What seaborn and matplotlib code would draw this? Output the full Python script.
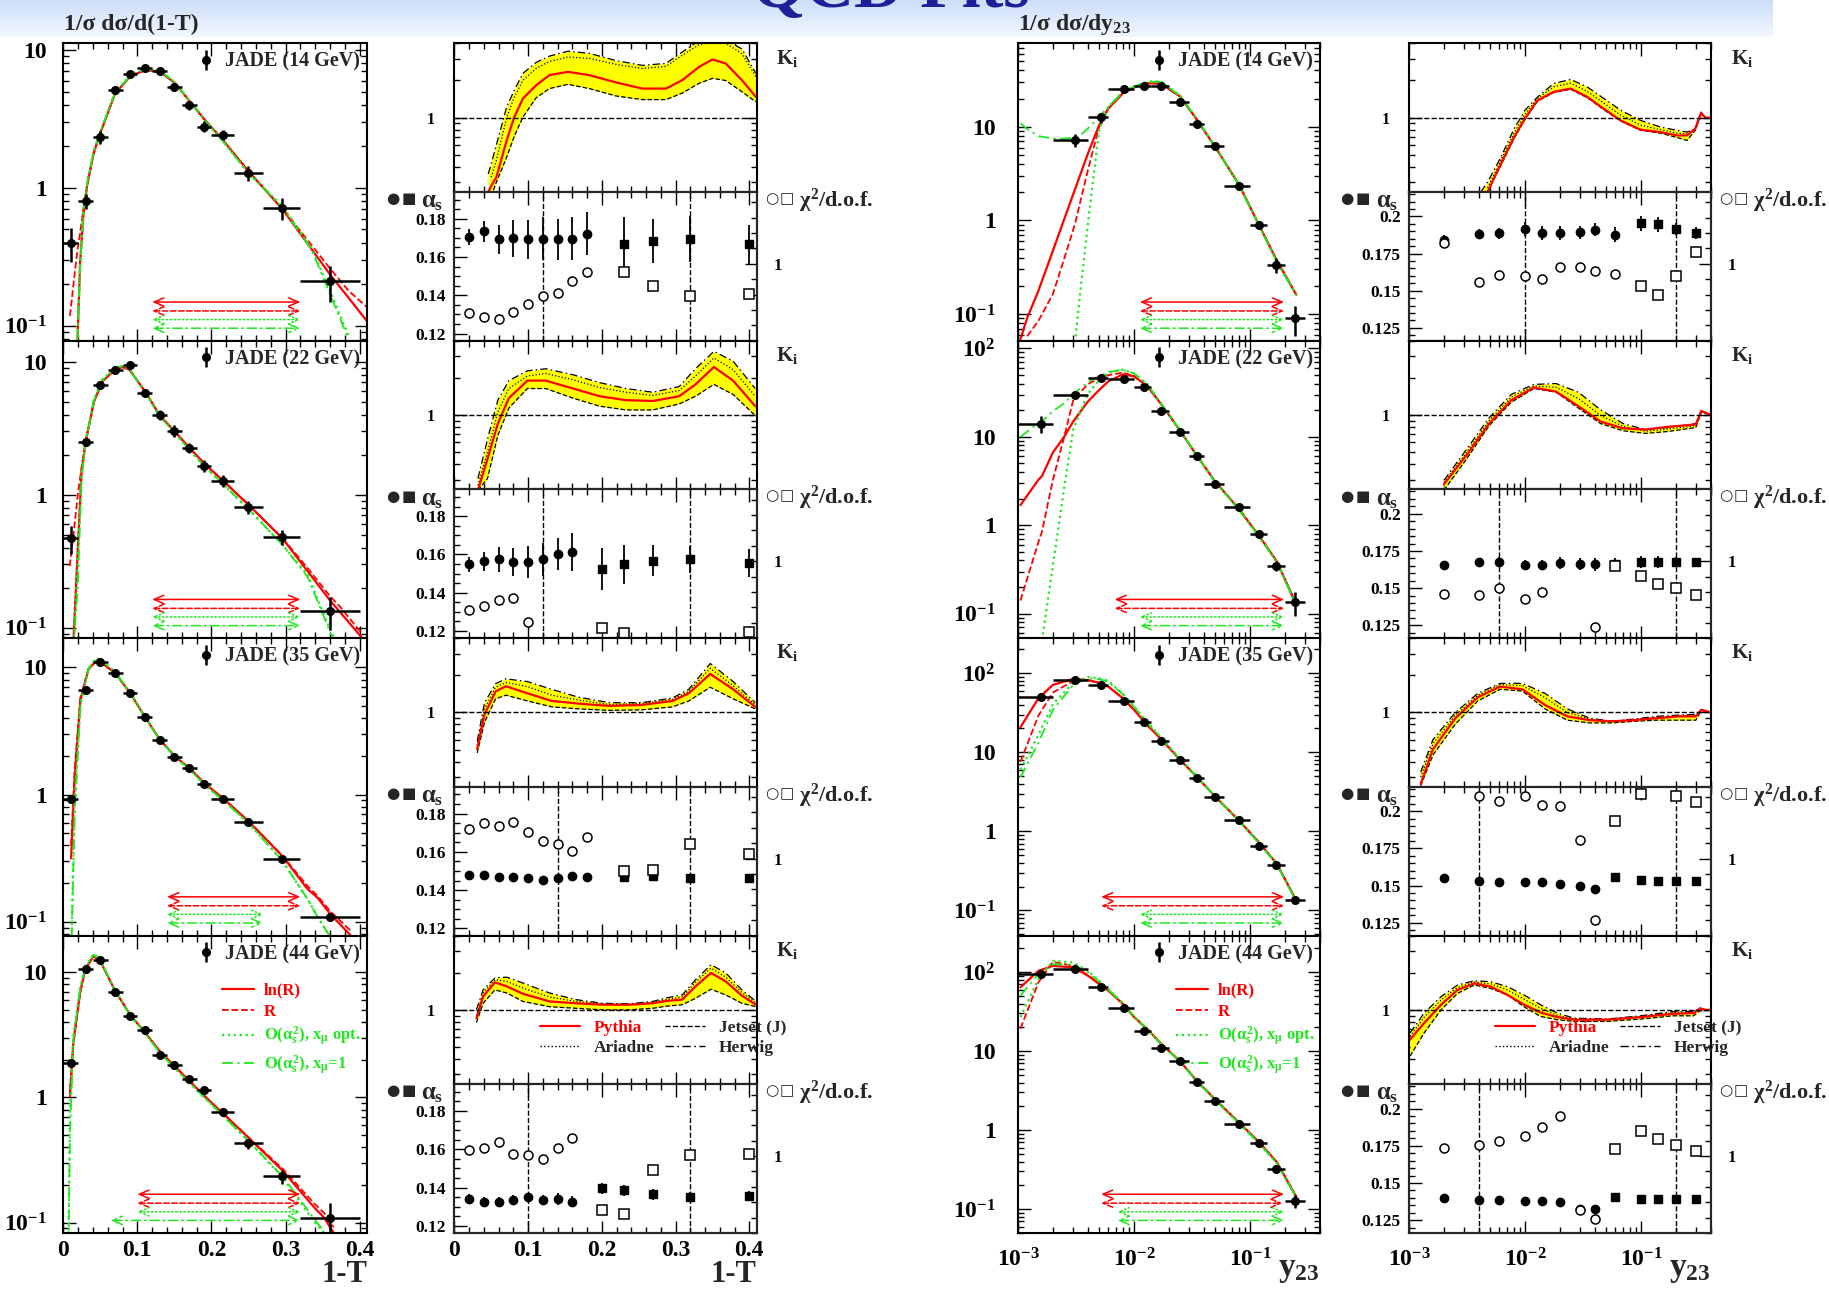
import numpy as np
import pandas as pd
import matplotlib
matplotlib.use("Agg")
import matplotlib.pyplot as plt
import seaborn as sns
from matplotlib.lines import Line2D
from matplotlib.ticker import (FixedLocator, FuncFormatter, NullFormatter,
                               MultipleLocator, LogLocator)

nan = np.nan

# ======================= DATA =======================
ENERGIES = ["14", "22", "35", "44"]

# ---- 1-T spectra (JADE data) ----
T_X = [0.01, 0.03, 0.05, 0.07, 0.09, 0.11, 0.13, 0.15, 0.17, 0.19, 0.215, 0.25, 0.295, 0.36]
T_EDGES = [0, 0.02, 0.04, 0.06, 0.08, 0.10, 0.12, 0.14, 0.16, 0.18, 0.20, 0.23, 0.27, 0.32, 0.40]
T_Y_14 = [0.40, 0.80, 2.34, 5.14, 6.7, 7.45, 7.0, 5.37, 4.0, 2.79, 2.43, 1.28, 0.72, 0.21]
T_E_14 = [0.11, 0.10, 0.25, 0.35, 0.40, 0.40, 0.40, 0.35, 0.30, 0.25, 0.20, 0.16, 0.13, 0.06]
T_Y_22 = [0.47, 2.5, 6.7, 8.65, 9.4, 5.83, 3.99, 3.02, 2.25, 1.64, 1.27, 0.81, 0.48, 0.133]
T_E_22 = [0.11, 0.15, 0.35, 0.5, 0.5, 0.4, 0.35, 0.3, 0.2, 0.17, 0.13, 0.09, 0.06, 0.037]
T_Y_35 = [0.93, 6.6, 11.1, 9.1, 6.26, 4.11, 2.69, 1.99, 1.61, 1.22, 0.925, 0.61, 0.31, 0.110]
T_E_35 = [0.04, 0.2, 0.35, 0.25, 0.18, 0.12, 0.08, 0.06, 0.05, 0.04, 0.03, 0.025, 0.015, 0.008]
T_Y_44 = [1.9, 10.6, 12.4, 7.0, 4.44, 3.48, 2.2, 1.81, 1.40, 1.14, 0.76, 0.43, 0.235, 0.110]
T_E_44 = [0.1, 0.5, 0.6, 0.35, 0.22, 0.17, 0.1, 0.08, 0.07, 0.07, 0.05, 0.04, 0.03, 0.035]

# ---- 1-T fit curves: ln(R), R, O(as2) x_mu opt, O(as2) x_mu=1 ----
TC_X_14 = [0.009, 0.016, 0.019, 0.0227, 0.027, 0.032, 0.041, 0.05, 0.07, 0.091, 0.111, 0.131, 0.151, 0.171, 0.191, 0.215, 0.25, 0.296, 0.336, 0.361, 0.385, 0.413]
TC_LNR_14 = [nan, nan, 0.075, 0.287, 0.624, 1.03, 1.79, 2.5, 4.86, 6.49, 7.17, 6.97, 5.74, 4.23, 3.12, 2.24, 1.32, 0.70, 0.355, 0.232, 0.16, 0.103]
TC_R_14 = [0.118, 0.257, 0.35, 0.47, 0.7, 1.03, 1.79, 2.5, 4.86, 6.49, 7.17, 6.97, 5.74, 4.23, 3.12, 2.24, 1.32, 0.71, 0.38, 0.257, 0.18, 0.132]
TC_OPT_14 = [nan, nan, 0.075, 0.26, 0.68, 1.09, 1.85, 2.57, 4.95, 6.6, 7.3, 7.1, 5.8, 4.25, 3.1, 2.2, 1.28, 0.737, 0.358, 0.174, 0.085, nan]
TC_X1_14 = [nan, nan, 0.078, 0.27, 0.66, 1.07, 1.82, 2.55, 4.9, 6.55, 7.25, 7.05, 5.78, 4.24, 3.1, 2.2, 1.28, 0.72, 0.35, 0.165, 0.08, nan]

TC_X_22 = [0.0086, 0.0137, 0.0195, 0.0246, 0.0305, 0.0414, 0.0523, 0.0698, 0.08, 0.0894, 0.1106, 0.13, 0.151, 0.171, 0.191, 0.216, 0.251, 0.296, 0.33, 0.361, 0.373, 0.402]
TC_LNR_22 = [nan, 0.08, 0.381, 1.48, 2.55, 5.0, 7.05, 8.77, 9.13, 8.7, 5.96, 3.96, 2.96, 2.23, 1.70, 1.27, 0.83, 0.468, 0.265, 0.158, 0.132, 0.0857]
TC_R_22 = [0.29, 0.5, 0.99, 1.6, 2.6, 5.0, 7.05, 8.77, 9.13, 8.7, 5.96, 3.96, 2.96, 2.23, 1.70, 1.27, 0.83, 0.47, 0.28, 0.17, 0.145, 0.092]
TC_OPT_22 = [nan, 0.07, 0.3, 1.4, 2.6, 5.2, 7.3, 9.0, 9.3, 8.8, 5.9, 3.9, 2.9, 2.15, 1.62, 1.2, 0.77, 0.42, 0.25, 0.094, 0.07, nan]
TC_X1_22 = [nan, 0.07, 0.2, 1.3, 2.55, 5.1, 7.2, 9.0, 9.3, 8.8, 5.9, 3.9, 2.9, 2.15, 1.62, 1.2, 0.77, 0.42, 0.24, 0.09, 0.07, nan]

TC_X_35 = [0.0105, 0.0154, 0.0231, 0.0341, 0.045, 0.0559, 0.0699, 0.0894, 0.11, 0.13, 0.151, 0.171, 0.191, 0.216, 0.251, 0.296, 0.33, 0.343, 0.361, 0.388]
TC_LNR_35 = [0.315, 1.37, 5.56, 9.73, 11.3, 10.4, 9.08, 6.39, 4.11, 2.72, 1.99, 1.6, 1.22, 0.93, 0.61, 0.327, 0.18, 0.155, 0.114, 0.078]
TC_R_35 = [0.4, 1.6, 5.8, 9.8, 11.3, 10.4, 9.08, 6.39, 4.11, 2.72, 1.99, 1.6, 1.22, 0.93, 0.61, 0.33, 0.19, 0.16, 0.12, 0.085]
TC_OPT_35 = [0.05, 0.9, 5.2, 9.9, 11.8, 10.8, 9.2, 6.4, 4.1, 2.7, 1.97, 1.57, 1.19, 0.9, 0.59, 0.3, 0.15, 0.11, 0.075, nan]
TC_X1_35 = [0.05, 0.7, 5.0, 9.8, 11.8, 10.8, 9.2, 6.4, 4.1, 2.7, 1.97, 1.57, 1.19, 0.9, 0.59, 0.3, 0.15, 0.11, 0.075, nan]

TC_X_44 = [0.007, 0.009, 0.0136, 0.0227, 0.0295, 0.041, 0.05, 0.07, 0.091, 0.11, 0.131, 0.151, 0.171, 0.191, 0.215, 0.25, 0.296, 0.34, 0.352, 0.365]
TC_LNR_44 = [nan, 1.08, 2.77, 6.87, 10.5, 13.5, 12.2, 7.08, 4.5, 3.32, 2.31, 1.76, 1.34, 1.02, 0.752, 0.477, 0.261, 0.13, 0.11, 0.083]
TC_R_44 = [nan, 1.0, 2.7, 6.8, 10.5, 13.5, 12.2, 7.08, 4.5, 3.32, 2.31, 1.76, 1.34, 1.02, 0.752, 0.48, 0.27, 0.14, 0.12, 0.092]
TC_OPT_44 = [0.07, 0.8, 3.1, 7.5, 11.0, 14.0, 12.5, 7.1, 4.45, 3.28, 2.25, 1.7, 1.3, 0.99, 0.72, 0.45, 0.23, 0.1, 0.083, nan]
TC_X1_44 = [0.07, 0.5, 2.9, 7.3, 10.8, 13.8, 12.4, 7.1, 4.45, 3.28, 2.25, 1.7, 1.3, 0.99, 0.72, 0.45, 0.235, 0.105, 0.085, nan]

# ---- y23 spectra ----
Y_EDGES = [0.001, 0.002, 0.004, 0.006, 0.01, 0.014, 0.02, 0.03, 0.04, 0.06, 0.1, 0.14, 0.2, 0.3]
Y_X_14 = [0.00312, 0.00516, 0.0082, 0.01217, 0.0172, 0.0249, 0.0351, 0.0496, 0.0795, 0.1186, 0.1667, 0.243]
Y_X = [0.00157, 0.00312, 0.00516, 0.0082, 0.0122, 0.0172, 0.0249, 0.0351, 0.0496, 0.0795, 0.1186, 0.1667, 0.243]
Y_Y_14 = [7.2, 12.6, 25.1, 27.3, 27.5, 18.4, 10.6, 6.3, 2.33, 0.905, 0.337, 0.0906]
Y_E_14 = [1.1, 1.5, 1.5, 1.5, 1.5, 1.2, 0.7, 0.4, 0.15, 0.08, 0.06, 0.032]
Y_Y_22 = [14.0, 30.0, 46.8, 44.9, 37.0, 19.5, 11.4, 6.03, 2.96, 1.6, 0.80, 0.345, 0.134]
Y_E_22 = [3.0, 2.0, 2.0, 2.0, 1.5, 0.8, 0.5, 0.3, 0.15, 0.08, 0.06, 0.04, 0.04]
Y_Y_35 = [49.3, 81.7, 71.3, 44.1, 24.3, 14.0, 7.9, 4.72, 2.75, 1.37, 0.66, 0.373, 0.136]
Y_E_35 = [1.5, 2.0, 2.0, 1.2, 0.6, 0.4, 0.2, 0.12, 0.07, 0.04, 0.02, 0.012, 0.008]
Y_Y_44 = [94.4, 109.0, 65.6, 35.4, 17.9, 11.07, 7.54, 4.06, 2.33, 1.19, 0.687, 0.324, 0.127]
Y_E_44 = [3.0, 3.0, 2.0, 1.0, 0.6, 0.4, 0.25, 0.15, 0.08, 0.05, 0.03, 0.015, 0.025]

# ---- y23 fit curves ----
YC_X_14 = [0.00105, 0.0012, 0.0015, 0.002, 0.0025, 0.0031, 0.0035, 0.004, 0.005, 0.006, 0.008, 0.01, 0.013, 0.017, 0.025, 0.035, 0.05, 0.08, 0.12, 0.17, 0.25]
YC_LNR_14 = [0.054, 0.091, 0.178, 0.477, 1.03, 2.16, 3.27, 5.18, 10.4, 15.7, 22.8, 26.4, 29.2, 29.0, 21.0, 11.8, 6.1, 2.43, 0.88, 0.373, 0.161]
YC_R_14 = [nan, 0.058, 0.0848, 0.164, 0.39, 0.92, 1.73, 3.44, 10.0, 15.7, 22.8, 26.4, 29.2, 29.0, 21.0, 11.8, 6.1, 2.43, 0.88, 0.373, 0.161]
YC_OPT_14 = [nan, nan, nan, nan, nan, 0.05, 0.21, 0.92, 9.2, 16.4, 23.7, 27.0, 30.4, 30.7, 21.5, 12.0, 6.1, 2.4, 0.87, 0.36, 0.16]
YC_X1_14 = [10.9, 9.5, 7.95, 7.5, 7.5, 7.7, 8.3, 9.6, 12.8, 16.4, 23.5, 27.0, 30.0, 30.3, 21.3, 12.0, 6.1, 2.4, 0.87, 0.36, 0.16]

YC_X_22 = [0.00105, 0.0015, 0.00161, 0.002, 0.0025, 0.003, 0.004, 0.005, 0.006, 0.008, 0.01, 0.013, 0.017, 0.025, 0.035, 0.05, 0.08, 0.12, 0.17, 0.25]
YC_LNR_22 = [1.69, 3.27, 3.6, 6.67, 10.0, 15.0, 25.0, 33.8, 42.3, 50.8, 48.3, 37.4, 23.7, 11.7, 6.03, 3.12, 1.53, 0.753, 0.389, 0.127]
YC_R_22 = [0.141, 0.647, 0.85, 3.27, 10.0, 26.4, 39.4, 45.8, 49.7, 53.3, 48.3, 37.4, 23.7, 11.7, 6.03, 3.12, 1.53, 0.753, 0.389, 0.127]
YC_OPT_22 = [nan, nan, 0.05, 0.351, 2.68, 12.3, 30.5, 43.6, 53.3, 57.4, 51.9, 39.4, 24.0, 11.8, 6.0, 3.1, 1.5, 0.74, 0.38, 0.125]
YC_X1_22 = [10.0, 14.3, 15.0, 19.4, 24.0, 30.5, 41.4, 48.3, 53.8, 57.4, 51.9, 39.4, 24.0, 11.8, 6.0, 3.1, 1.5, 0.74, 0.38, 0.125]

YC_X_35 = [0.00105, 0.0015, 0.002, 0.003, 0.004, 0.005, 0.006, 0.008, 0.01, 0.013, 0.017, 0.025, 0.035, 0.05, 0.08, 0.12, 0.17, 0.25]
YC_LNR_35 = [20.7, 48.2, 71.3, 84.6, 81.7, 75.5, 67.6, 48.2, 34.4, 22.0, 14.8, 7.98, 4.82, 2.75, 1.37, 0.716, 0.386, 0.133]
YC_R_35 = [7.56, 29.1, 57.0, 79.8, 81.7, 75.5, 67.6, 48.2, 34.4, 22.0, 14.8, 7.98, 4.82, 2.75, 1.37, 0.716, 0.386, 0.133]
YC_OPT_35 = [6.04, 16.6, 40.7, 75.5, 89.4, 86.3, 79.8, 55.0, 38.0, 24.0, 15.5, 8.2, 4.9, 2.75, 1.36, 0.7, 0.38, 0.13]
YC_X1_35 = [4.82, 13.2, 34.4, 71.3, 86.3, 84.0, 78.0, 54.0, 37.5, 23.5, 15.3, 8.1, 4.85, 2.75, 1.36, 0.7, 0.38, 0.13]

YC_X_44 = [0.00105, 0.0015, 0.002, 0.003, 0.004, 0.005, 0.006, 0.008, 0.01, 0.013, 0.017, 0.025, 0.035, 0.05, 0.08, 0.12, 0.17, 0.25]
YC_LNR_44 = [64.3, 104.0, 120.0, 115.0, 90.2, 70.8, 58.4, 39.7, 27.0, 19.0, 12.5, 7.38, 4.15, 2.44, 1.25, 0.7, 0.393, 0.143]
YC_R_44 = [19.3, 74.3, 135.0, 120.0, 92.0, 71.0, 58.4, 39.7, 27.0, 19.0, 12.5, 7.38, 4.15, 2.44, 1.25, 0.7, 0.393, 0.143]
YC_OPT_44 = [27.0, 81.7, 139.0, 132.0, 104.0, 78.0, 60.8, 40.5, 27.5, 19.0, 12.4, 7.3, 4.1, 2.4, 1.22, 0.68, 0.38, 0.14]
YC_X1_44 = [50.6, 94.4, 126.0, 123.0, 100.0, 76.0, 60.0, 40.0, 27.3, 19.0, 12.4, 7.3, 4.1, 2.4, 1.22, 0.68, 0.38, 0.14]

# ---- fit ranges (ln R, R, opt, x_mu=1) ----
T_FIT_14 = [(0.12, 0.32), (0.12, 0.32), (0.12, 0.32), (0.12, 0.32)]
T_FIT_22 = [(0.12, 0.32), (0.12, 0.32), (0.12, 0.32), (0.12, 0.32)]
T_FIT_35 = [(0.14, 0.32), (0.14, 0.32), (0.14, 0.27), (0.14, 0.27)]
T_FIT_44 = [(0.10, 0.32), (0.10, 0.32), (0.10, 0.32), (0.064, 0.32)]
Y_FIT_14 = [(0.0112, 0.196), (0.0112, 0.196), (0.0112, 0.196), (0.0112, 0.196)]
Y_FIT_22 = [(0.0068, 0.196), (0.0068, 0.196), (0.0112, 0.196), (0.0112, 0.196)]
Y_FIT_35 = [(0.0052, 0.196), (0.0052, 0.196), (0.0112, 0.196), (0.0112, 0.196)]
Y_FIT_44 = [(0.0052, 0.196), (0.0052, 0.19), (0.0072, 0.196), (0.0072, 0.196)]
T_VLINES = [(0.12, 0.32), (0.12, 0.32), (0.14, 0.32), (0.10, 0.32)]
Y_VLINES = [(0.01, 0.2), (0.006, 0.2), (0.004, 0.2), (0.004, 0.2)]

# ---- hadronisation corrections K_i (1-T) : Pythia, Jetset, Ariadne, Herwig ----
KT_X_14 = [0.046, 0.05, 0.057, 0.071, 0.081, 0.093, 0.111, 0.129, 0.154, 0.183, 0.219, 0.255, 0.287, 0.309, 0.332, 0.35, 0.368, 0.39, 0.409]
KT_PY_14 = [0.249, 0.28, 0.329, 0.654, 1.0, 1.428, 1.83, 2.21, 2.35, 2.21, 1.93, 1.72, 1.72, 2.01, 2.58, 2.96, 2.75, 2.01, 1.47]
KT_JE_14 = [nan, 0.23, 0.3, 0.478, 0.7, 1.01, 1.45, 1.72, 1.86, 1.72, 1.5, 1.4, 1.4, 1.58, 1.9, 2.08, 2.0, 1.62, 1.34]
KT_AR_14 = [nan, 0.33, 0.45, 1.0, 1.45, 2.01, 2.5, 2.85, 3.1, 3.02, 2.7, 2.5, 2.6, 3.2, 3.9, 4.1, 4.0, 3.3, 2.14]
KT_HE_14 = [0.35, 0.42, 0.6, 1.22, 1.65, 2.28, 2.8, 3.15, 3.45, 3.32, 2.9, 2.65, 2.75, 3.4, 4.2, 4.4, 4.25, 3.6, 2.28]

KT_X_22 = [0.032, 0.045, 0.059, 0.074, 0.099, 0.124, 0.161, 0.197, 0.233, 0.269, 0.305, 0.327, 0.352, 0.378, 0.408]
KT_PY_22 = [0.246, 0.442, 0.852, 1.37, 1.9, 1.9, 1.64, 1.42, 1.32, 1.3, 1.42, 1.77, 2.45, 1.9, 1.18]
KT_JE_22 = [0.246, 0.306, 0.684, 1.14, 1.64, 1.64, 1.37, 1.18, 1.1, 1.1, 1.23, 1.42, 1.77, 1.47, 0.99]
KT_AR_22 = [0.27, 0.5, 1.06, 1.64, 2.07, 2.17, 1.93, 1.67, 1.53, 1.44, 1.58, 2.07, 2.9, 2.33, 1.42]
KT_HE_22 = [0.306, 0.636, 1.32, 1.9, 2.28, 2.37, 2.12, 1.83, 1.64, 1.53, 1.7, 2.37, 3.28, 2.73, 1.64]

KT_X_35 = [0.031, 0.041, 0.056, 0.07, 0.099, 0.132, 0.168, 0.21, 0.254, 0.296, 0.318, 0.347, 0.378, 0.408]
KT_PY_35 = [0.505, 0.965, 1.48, 1.63, 1.43, 1.24, 1.18, 1.13, 1.15, 1.24, 1.43, 2.05, 1.54, 1.11]
KT_JE_35 = [0.47, 0.835, 1.29, 1.38, 1.24, 1.11, 1.07, 1.04, 1.05, 1.11, 1.24, 1.6, 1.29, 1.07]
KT_AR_35 = [0.54, 1.07, 1.6, 1.75, 1.62, 1.38, 1.26, 1.16, 1.18, 1.28, 1.48, 2.28, 1.65, 1.15]
KT_HE_35 = [0.583, 1.2, 1.71, 1.87, 1.78, 1.54, 1.33, 1.2, 1.2, 1.31, 1.54, 2.49, 1.78, 1.2]

KT_X_44 = [0.03, 0.039, 0.055, 0.071, 0.093, 0.129, 0.165, 0.201, 0.237, 0.269, 0.287, 0.309, 0.327, 0.348, 0.368, 0.39, 0.409]
KT_PY_44 = [0.855, 1.28, 1.67, 1.55, 1.35, 1.17, 1.13, 1.1, 1.1, 1.13, 1.18, 1.21, 1.55, 1.99, 1.7, 1.3, 1.1]
KT_JE_44 = [0.789, 1.13, 1.45, 1.37, 1.17, 1.06, 1.03, 1.0, 1.0, 1.03, 1.07, 1.1, 1.24, 1.47, 1.32, 1.13, 1.06]
KT_AR_44 = [0.9, 1.37, 1.75, 1.7, 1.5, 1.27, 1.17, 1.12, 1.11, 1.15, 1.21, 1.27, 1.67, 2.18, 1.84, 1.38, 1.13]
KT_HE_44 = [1.0, 1.45, 1.81, 1.84, 1.65, 1.37, 1.21, 1.13, 1.12, 1.17, 1.25, 1.32, 1.75, 2.32, 1.99, 1.45, 1.17]

# ---- K_i (y23) ----
KY_X_14 = [0.00416, 0.00475, 0.00618, 0.00805, 0.01, 0.0128, 0.0177, 0.0247, 0.0344, 0.0477, 0.0664, 0.0986, 0.1465, 0.204, 0.248, 0.293, 0.328, 0.357, 0.399]
KY_PY_14 = [nan, 0.25, 0.422, 0.696, 0.99, 1.38, 1.62, 1.72, 1.47, 1.18, 0.951, 0.799, 0.764, 0.718, 0.718, 0.814, 1.09, 1.0, 1.0]
KY_JE_14 = [nan, 0.25, 0.41, 0.68, 0.97, 1.36, 1.6, 1.7, 1.45, 1.16, 0.94, 0.79, 0.75, 0.69, 0.654, 0.79, 1.08, 1.0, 1.0]
KY_AR_14 = [nan, 0.27, 0.45, 0.75, 1.07, 1.43, 1.78, 1.9, 1.63, 1.31, 1.05, 0.87, 0.8, 0.75, 0.74, 0.81, 1.1, 1.0, 1.0]
KY_HE_14 = [0.25, 0.3, 0.478, 0.814, 1.15, 1.47, 1.89, 2.04, 1.77, 1.43, 1.15, 0.951, 0.84, 0.789, 0.764, 0.814, 1.11, 1.0, 1.0]

KY_X_22 = [0.002, 0.00314, 0.0049, 0.0076, 0.0119, 0.0185, 0.0288, 0.0449, 0.07, 0.109, 0.17, 0.296, 0.33, 0.4]
KY_PY_22 = [0.275, 0.475, 0.852, 1.32, 1.67, 1.55, 1.18, 0.884, 0.78, 0.763, 0.803, 0.84, 1.08, 1.0]
KY_JE_22 = [0.246, 0.442, 0.821, 1.27, 1.64, 1.53, 1.14, 0.852, 0.746, 0.71, 0.736, 0.792, 1.06, 1.0]
KY_AR_22 = [0.285, 0.5, 0.9, 1.4, 1.72, 1.68, 1.36, 0.99, 0.81, 0.74, 0.77, 0.82, 1.07, 1.0]
KY_HE_22 = [0.296, 0.53, 0.95, 1.47, 1.77, 1.8, 1.53, 1.1, 0.852, 0.763, 0.792, 0.852, 1.08, 1.0]

KY_X_35 = [0.00126, 0.00161, 0.00251, 0.00392, 0.0061, 0.0095, 0.0148, 0.0231, 0.036, 0.056, 0.0874, 0.136, 0.212, 0.296, 0.33, 0.4]
KY_PY_35 = [0.264, 0.504, 0.898, 1.33, 1.62, 1.54, 1.15, 0.93, 0.866, 0.848, 0.866, 0.898, 0.93, 0.93, 1.05, 1.0]
KY_JE_35 = [0.255, 0.453, 0.806, 1.24, 1.54, 1.49, 1.07, 0.866, 0.823, 0.823, 0.848, 0.866, 0.866, 0.866, 1.04, 1.0]
KY_AR_35 = [0.3, 0.56, 0.95, 1.38, 1.68, 1.65, 1.32, 1.0, 0.88, 0.85, 0.875, 0.915, 0.94, 0.95, 1.05, 1.0]
KY_HE_35 = [0.328, 0.604, 1.0, 1.43, 1.72, 1.72, 1.43, 1.07, 0.898, 0.848, 0.885, 0.93, 0.951, 0.965, 1.05, 1.0]

KY_X_44 = [0.00102, 0.00135, 0.00189, 0.00262, 0.00365, 0.00507, 0.00706, 0.0098, 0.0136, 0.019, 0.0264, 0.051, 0.0986, 0.19, 0.283, 0.323, 0.357, 0.4]
KY_PY_44 = [0.574, 0.782, 1.1, 1.45, 1.64, 1.54, 1.32, 1.1, 0.951, 0.873, 0.832, 0.832, 0.873, 0.929, 0.941, 1.03, 1.0, 1.0]
KY_JE_44 = [0.422, 0.65, 1.0, 1.36, 1.59, 1.49, 1.32, 1.06, 0.884, 0.832, 0.806, 0.806, 0.842, 0.895, 0.895, 0.988, 1.0, 1.0]
KY_AR_44 = [0.61, 0.87, 1.2, 1.52, 1.68, 1.62, 1.45, 1.22, 1.03, 0.9, 0.845, 0.838, 0.885, 0.95, 0.955, 1.03, 1.0, 1.0]
KY_HE_44 = [0.65, 0.941, 1.28, 1.59, 1.72, 1.69, 1.54, 1.32, 1.1, 0.941, 0.857, 0.842, 0.895, 0.97, 0.97, 1.03, 1.0, 1.0]

# ---- alpha_s fits vs. fit-range limit (1-T) ----
AT_CX_14 = [0.02, 0.04, 0.06, 0.08, 0.10, 0.12, 0.14, 0.16, 0.18]
AT_C_14 = [0.1704, 0.1734, 0.1692, 0.1699, 0.1692, 0.1697, 0.1692, 0.1697, 0.1723]
AT_CE_14 = [0.0043, 0.0057, 0.0076, 0.0097, 0.010, 0.011, 0.0106, 0.011, 0.011]
AT_SX_14 = [0.23, 0.27, 0.32, 0.40]
AT_S_14 = [0.167, 0.1683, 0.1696, 0.1666]
AT_SE_14 = [0.014, 0.0115, 0.012, 0.010]
CT_CX_14 = [0.02, 0.04, 0.06, 0.08, 0.10, 0.12, 0.14, 0.16, 0.18]
CT_C_14 = [0.356, 0.313, 0.278, 0.374, 0.478, 0.578, 0.617, 0.782, 0.891]
CT_SX_14 = [0.23, 0.27, 0.32, 0.40]
CT_S_14 = [0.891, 0.713, 0.578, 0.608]

AT_CX_22 = [0.02, 0.04, 0.06, 0.08, 0.10, 0.12, 0.14, 0.16]
AT_C_22 = [0.1548, 0.1565, 0.1575, 0.156, 0.156, 0.1575, 0.1603, 0.1614]
AT_CE_22 = [0.004, 0.005, 0.0066, 0.0075, 0.0085, 0.0085, 0.0085, 0.010]
AT_SX_22 = [0.20, 0.23, 0.27, 0.32, 0.40]
AT_S_22 = [0.1522, 0.1548, 0.1567, 0.1575, 0.1556]
AT_SE_22 = [0.011, 0.010, 0.008, 0.007, 0.0075]
CT_CX_22 = [0.02, 0.04, 0.06, 0.08, 0.10]
CT_C_22 = [0.361, 0.417, 0.499, 0.519, 0.214]
CT_SX_22 = [0.20, 0.23, 0.40]
CT_S_22 = [0.127, 0.066, 0.076]

AT_CX_35 = [0.02, 0.04, 0.06, 0.08, 0.10, 0.12, 0.14, 0.16, 0.18]
AT_C_35 = [0.1481, 0.1478, 0.147, 0.147, 0.1462, 0.1454, 0.1462, 0.1474, 0.147]
AT_CE_35 = [0.001, 0.001, 0.001, 0.001, 0.001, 0.001, 0.001, 0.001, 0.001]
AT_SX_35 = [0.23, 0.27, 0.32, 0.40]
AT_S_35 = [0.147, 0.1474, 0.1462, 0.1462]
AT_SE_35 = [0.0015, 0.0015, 0.0015, 0.0015]
CT_CX_35 = [0.02, 0.04, 0.06, 0.08, 0.10, 0.12, 0.14, 0.16, 0.18]
CT_C_35 = [1.391, 1.457, 1.422, 1.482, 1.346, 1.226, 1.19, 1.095, 1.286]
CT_SX_35 = [0.23, 0.27, 0.32, 0.40]
CT_S_35 = [0.844, 0.854, 1.196, 1.055]

AT_CX_44 = [0.02, 0.04, 0.06, 0.08, 0.10, 0.12, 0.14, 0.16]
AT_C_44 = [0.1342, 0.1326, 0.1326, 0.1336, 0.1349, 0.1336, 0.134, 0.1326]
AT_CE_44 = [0.0022, 0.0025, 0.0025, 0.0025, 0.0025, 0.0025, 0.003, 0.003]
AT_SX_44 = [0.20, 0.23, 0.27, 0.32, 0.40]
AT_S_44 = [0.1396, 0.1385, 0.1364, 0.135, 0.1356]
AT_SE_44 = [0.003, 0.003, 0.003, 0.0025, 0.0025]
CT_CX_44 = [0.02, 0.04, 0.06, 0.08, 0.10, 0.12, 0.14, 0.16]
CT_C_44 = [1.082, 1.1, 1.178, 1.021, 1.008, 0.956, 1.104, 1.234]
CT_SX_44 = [0.20, 0.23, 0.27, 0.32, 0.40]
CT_S_44 = [0.3, 0.243, 0.817, 1.008, 1.021]

# ---- alpha_s fits vs. fit-range limit (y23) ----
AY_CX_14 = [0.002, 0.004, 0.006, 0.01, 0.014, 0.02, 0.03, 0.04, 0.06]
AY_C_14 = [0.1843, 0.1881, 0.1885, 0.1915, 0.1888, 0.1888, 0.1892, 0.191, 0.1876]
AY_CE_14 = [0.003, 0.0035, 0.004, 0.0045, 0.0045, 0.0045, 0.0045, 0.0045, 0.005]
AY_SX_14 = [0.1, 0.14, 0.2, 0.3]
AY_S_14 = [0.1955, 0.1946, 0.1915, 0.1888]
AY_SE_14 = [0.005, 0.005, 0.004, 0.004]
CY_CX_14 = [0.002, 0.004, 0.006, 0.01, 0.014, 0.02, 0.03, 0.04, 0.06]
CY_C_14 = [1.269, 0.769, 0.86, 0.847, 0.808, 0.956, 0.965, 0.913, 0.865]
CY_SX_14 = [0.1, 0.14, 0.2, 0.3]
CY_S_14 = [0.708, 0.595, 0.847, 1.152]

AY_CX_22 = [0.002, 0.004, 0.006, 0.01, 0.014, 0.02, 0.03, 0.04]
AY_C_22 = [0.1656, 0.1674, 0.1674, 0.1654, 0.1654, 0.1667, 0.1661, 0.1659]
AY_CE_22 = [0.0025, 0.003, 0.0035, 0.0035, 0.0035, 0.004, 0.004, 0.0045]
AY_SX_22 = [0.06, 0.1, 0.14, 0.2, 0.3]
AY_S_22 = [0.1661, 0.1677, 0.1677, 0.1674, 0.1674]
AY_SE_22 = [0.0045, 0.004, 0.004, 0.0035, 0.003]
CY_CX_22 = [0.002, 0.004, 0.006, 0.01, 0.014, 0.04]
CY_C_22 = [0.58, 0.555, 0.651, 0.514, 0.595, 0.143]
CY_SX_22 = [0.06, 0.1, 0.14, 0.2, 0.3]
CY_S_22 = [0.936, 0.809, 0.702, 0.651, 0.555]

AY_CX_35 = [0.002, 0.004, 0.006, 0.01, 0.014, 0.02, 0.03, 0.04]
AY_C_35 = [0.155, 0.1531, 0.1523, 0.1523, 0.1521, 0.151, 0.1495, 0.1479]
AY_CE_35 = [0.001, 0.001, 0.001, 0.001, 0.001, 0.001, 0.001, 0.001]
AY_SX_35 = [0.06, 0.1, 0.14, 0.2, 0.3]
AY_S_35 = [0.1555, 0.1539, 0.1531, 0.1531, 0.1531]
AY_SE_35 = [0.001, 0.001, 0.001, 0.001, 0.001]
CY_CX_35 = [0.004, 0.006, 0.01, 0.014, 0.02, 0.03, 0.04]
CY_C_35 = [1.818, 1.748, 1.808, 1.698, 1.678, 1.241, 0.201]
CY_SX_35 = [0.06, 0.1, 0.2, 0.3]
CY_S_35 = [1.492, 1.834, 1.818, 1.733]

AY_CX_44 = [0.002, 0.004, 0.006, 0.01, 0.014, 0.02, 0.03, 0.04]
AY_C_44 = [0.1396, 0.1384, 0.1384, 0.138, 0.138, 0.1373, 0.1328, 0.1322]
AY_CE_44 = [0.001, 0.001, 0.001, 0.001, 0.001, 0.001, 0.002, 0.002]
AY_SX_44 = [0.06, 0.1, 0.14, 0.2, 0.3]
AY_S_44 = [0.1407, 0.1389, 0.1389, 0.1389, 0.1389]
AY_SE_44 = [0.001, 0.001, 0.001, 0.001, 0.001]
CY_CX_44 = [0.002, 0.004, 0.006, 0.01, 0.014, 0.02, 0.03, 0.04]
CY_C_44 = [1.104, 1.147, 1.191, 1.26, 1.382, 1.521, 0.304, 0.183]
CY_SX_44 = [0.06, 0.1, 0.14, 0.2, 0.3]
CY_S_44 = [1.087, 1.326, 1.217, 1.143, 1.065]

# ======================= STYLE =======================
sns.set_style("ticks")
plt.rcParams["font.family"] = ["Liberation Serif", "DejaVu Sans"]
plt.rcParams["font.weight"] = "bold"
plt.rcParams["mathtext.fontset"] = "custom"
plt.rcParams["mathtext.rm"] = "Liberation Serif:bold"
plt.rcParams["mathtext.it"] = "Liberation Serif:bold"
plt.rcParams["mathtext.bf"] = "Liberation Serif:bold"
plt.rcParams["axes.linewidth"] = 1.5

RED = "#ff0000"
GREEN = "#1ee81e"
YELLOW = "#ffff00"
DASHDOT = (0, (6, 2.5, 1.2, 2.5))
SYM = ["DejaVu Sans"]

W, H = 1829, 1289
fig = plt.figure(figsize=(W / 100, H / 100), dpi=100)
fig.patch.set_facecolor("white")

COL_X = [(63.3, 367.0), (454.3, 756.7), (1018.0, 1320.0), (1409.0, 1711.0)]
ROW_Y = [43.3, 340.7, 638.1, 935.5, 1232.9]


def box(l, t, r, b):
    return [l / W, 1 - b / H, (r - l) / W, (b - t) / H]


# banner
bg = fig.add_axes([0, 1 - 37 / H, 1773 / W, 37 / H], zorder=-5)
grad = np.linspace(0, 1, 50)[:, None]
cols = np.array([0.80, 0.87, 0.97])[None, None, :] * (1 - grad[..., None]) + \
       np.array([0.95, 0.97, 1.0])[None, None, :] * grad[..., None]
bg.imshow(np.repeat(cols, 10, axis=1), aspect="auto", extent=[0, 1, 0, 1])
bg.set_axis_off()
fig.text(0.487, 1 - 7 / H, "QCD Fits", ha="center", va="baseline", fontsize=49,
         color="#1f1f9a", fontweight="bold")
fig.text(64 / W, 1 - 30 / H, "1/σ dσ/d(1-T)", fontsize=17, va="baseline")
fig.text(1018 / W, 1 - 30 / H, r"1/σ dσ/dy$_{23}$", fontsize=17, va="baseline")


def pow_fmt(v, p):
    if v <= 0:
        return ""
    e = int(round(np.log10(v)))
    if e == 0:
        return "1"
    if e == 1:
        return "10"
    return r"$10^{%d}$" % e


def base_ticks(ax, labelsize=15, pad=7):
    ax.tick_params(which="both", direction="in", top=True, right=True, colors="k",
                   width=1.0, labelsize=labelsize, pad=pad)
    ax.tick_params(which="major", length=9)
    ax.tick_params(which="minor", length=4.5)
    for s in ax.spines.values():
        s.set_linewidth(1.5)
        s.set_color("k")


def x_thrust(ax, labels):
    ax.set_xlim(0, 0.41)
    ax.xaxis.set_major_locator(MultipleLocator(0.1))
    ax.xaxis.set_minor_locator(MultipleLocator(0.02))
    if labels:
        ax.xaxis.set_major_formatter(FuncFormatter(lambda v, p: "0" if abs(v) < 1e-9 else f"{v:.1f}"))
    else:
        ax.xaxis.set_major_formatter(NullFormatter())


def x_y23(ax, labels):
    ax.set_xscale("log")
    ax.set_xlim(1.0e-3, 0.4)
    ax.xaxis.set_major_locator(LogLocator(10, numticks=10))
    ax.xaxis.set_minor_locator(LogLocator(10, subs=np.arange(2, 10), numticks=30))
    ax.xaxis.set_minor_formatter(NullFormatter())
    if labels:
        ax.xaxis.set_major_formatter(FuncFormatter(pow_fmt))
    else:
        ax.xaxis.set_major_formatter(NullFormatter())


def line(ax, x, y, color, ls, lw):
    df = pd.DataFrame({"x": x, "y": y}).dropna()
    sns.lineplot(data=df, x="x", y="y", ax=ax, color=color, linestyle=ls, lw=lw,
                 estimator=None, sort=False, legend=False)
    ax.set_xlabel("")
    ax.set_ylabel("")


CURVE_STYLES = [(RED, "-", 1.6), (RED, "--", 1.3), (GREEN, ":", 1.6), (GREEN, DASHDOT, 1.3)]
ARROW_Y = [0.13, 0.10, 0.071, 0.042]

T_DATA = [(T_Y_14, T_E_14), (T_Y_22, T_E_22), (T_Y_35, T_E_35), (T_Y_44, T_E_44)]
T_CURVES = [(TC_X_14, TC_LNR_14, TC_R_14, TC_OPT_14, TC_X1_14),
            (TC_X_22, TC_LNR_22, TC_R_22, TC_OPT_22, TC_X1_22),
            (TC_X_35, TC_LNR_35, TC_R_35, TC_OPT_35, TC_X1_35),
            (TC_X_44, TC_LNR_44, TC_R_44, TC_OPT_44, TC_X1_44)]
T_FITS = [T_FIT_14, T_FIT_22, T_FIT_35, T_FIT_44]
Y_DATA = [(Y_X_14, Y_Y_14, Y_E_14), (Y_X, Y_Y_22, Y_E_22), (Y_X, Y_Y_35, Y_E_35), (Y_X, Y_Y_44, Y_E_44)]
Y_CURVES = [(YC_X_14, YC_LNR_14, YC_R_14, YC_OPT_14, YC_X1_14),
            (YC_X_22, YC_LNR_22, YC_R_22, YC_OPT_22, YC_X1_22),
            (YC_X_35, YC_LNR_35, YC_R_35, YC_OPT_35, YC_X1_35),
            (YC_X_44, YC_LNR_44, YC_R_44, YC_OPT_44, YC_X1_44)]
Y_FITS = [Y_FIT_14, Y_FIT_22, Y_FIT_35, Y_FIT_44]
T_YLIM = [(0.078, 11.2), (0.0835, 14.4), (0.078, 17.0), (0.083, 19.6)]
Y_YLIM = [(0.052, 78), (0.053, 122), (0.048, 278), (0.050, 291)]

KT = [(KT_X_14, KT_PY_14, KT_JE_14, KT_AR_14, KT_HE_14),
      (KT_X_22, KT_PY_22, KT_JE_22, KT_AR_22, KT_HE_22),
      (KT_X_35, KT_PY_35, KT_JE_35, KT_AR_35, KT_HE_35),
      (KT_X_44, KT_PY_44, KT_JE_44, KT_AR_44, KT_HE_44)]
KY = [(KY_X_14, KY_PY_14, KY_JE_14, KY_AR_14, KY_HE_14),
      (KY_X_22, KY_PY_22, KY_JE_22, KY_AR_22, KY_HE_22),
      (KY_X_35, KY_PY_35, KY_JE_35, KY_AR_35, KY_HE_35),
      (KY_X_44, KY_PY_44, KY_JE_44, KY_AR_44, KY_HE_44)]
AT = [(AT_CX_14, AT_C_14, AT_CE_14, AT_SX_14, AT_S_14, AT_SE_14, CT_CX_14, CT_C_14, CT_SX_14, CT_S_14),
      (AT_CX_22, AT_C_22, AT_CE_22, AT_SX_22, AT_S_22, AT_SE_22, CT_CX_22, CT_C_22, CT_SX_22, CT_S_22),
      (AT_CX_35, AT_C_35, AT_CE_35, AT_SX_35, AT_S_35, AT_SE_35, CT_CX_35, CT_C_35, CT_SX_35, CT_S_35),
      (AT_CX_44, AT_C_44, AT_CE_44, AT_SX_44, AT_S_44, AT_SE_44, CT_CX_44, CT_C_44, CT_SX_44, CT_S_44)]
AY = [(AY_CX_14, AY_C_14, AY_CE_14, AY_SX_14, AY_S_14, AY_SE_14, CY_CX_14, CY_C_14, CY_SX_14, CY_S_14),
      (AY_CX_22, AY_C_22, AY_CE_22, AY_SX_22, AY_S_22, AY_SE_22, CY_CX_22, CY_C_22, CY_SX_22, CY_S_22),
      (AY_CX_35, AY_C_35, AY_CE_35, AY_SX_35, AY_S_35, AY_SE_35, CY_CX_35, CY_C_35, CY_SX_35, CY_S_35),
      (AY_CX_44, AY_C_44, AY_CE_44, AY_SX_44, AY_S_44, AY_SE_44, CY_CX_44, CY_C_44, CY_SX_44, CY_S_44)]


def dist_panel(ax, row, kind):
    last = row == 3
    ax.set_yscale("log")
    if kind == "T":
        x_thrust(ax, last)
        y, e = T_DATA[row]
        x = np.array(T_X)
        lo = np.array(T_EDGES[:-1]); hi = np.array(T_EDGES[1:])
        curves = T_CURVES[row]; fits = T_FITS[row]; ylim = T_YLIM[row]
    else:
        x_y23(ax, last)
        xs, y, e = Y_DATA[row]
        x = np.array(xs)
        n = len(x)
        lo = np.array(Y_EDGES[-n - 1:-1]); hi = np.array(Y_EDGES[-n:])
        curves = Y_CURVES[row]; fits = Y_FITS[row]; ylim = Y_YLIM[row]
    ax.set_ylim(*ylim)
    ax.yaxis.set_major_locator(LogLocator(10, numticks=10))
    ax.yaxis.set_minor_locator(LogLocator(10, subs=np.arange(2, 10), numticks=30))
    ax.yaxis.set_major_formatter(FuncFormatter(pow_fmt))
    ax.yaxis.set_minor_formatter(NullFormatter())
    base_ticks(ax, 17, pad=12 if kind == "T" else 16)
    if last:
        ax.tick_params(axis="x", labelsize=17, pad=5 if kind == "T" else 11)
    gx = curves[0]
    for (c, ls, lw), yy in zip(CURVE_STYLES, curves[1:]):
        line(ax, gx, yy, c, ls, lw)
    ax.errorbar(x, y, xerr=[x - lo, hi - x], yerr=e, fmt="o", ms=5.5, color="k",
                elinewidth=1.8, capsize=0, zorder=6)
    for (c, ls, lw), (a, b), yf in zip(CURVE_STYLES, fits, ARROW_Y):
        ax.annotate("", xy=(b, yf), xytext=(a, yf),
                    xycoords=("data", "axes fraction"), textcoords=("data", "axes fraction"),
                    arrowprops=dict(arrowstyle="<->,head_length=0.7,head_width=0.3",
                                    color=c, lw=1.1, linestyle=ls, shrinkA=0, shrinkB=0))
    eb = ax.errorbar([nan], [nan], yerr=[[1.0], [1.0]], fmt="o", ms=5.5, color="k",
                     elinewidth=1.8, capsize=0)
    leg = ax.legend([eb], [f"JADE ({ENERGIES[row]} GeV)"], loc="upper right",
                    bbox_to_anchor=(1.0, 0.995), frameon=False, fontsize=14.5,
                    handlelength=0.7, handletextpad=0.6, borderaxespad=0.15, borderpad=0.2)
    if last:
        ax.add_artist(leg)
        hs = [Line2D([], [], color=c, ls=ls, lw=lw) for c, ls, lw in CURVE_STYLES]
        labs = ["ln(R)", "R", r"O($\alpha_s^2$), x$_\mu$ opt.", r"O($\alpha_s^2$), x$_\mu$=1"]
        leg2 = ax.legend(hs, labs, loc="upper left", bbox_to_anchor=(0.49, 0.875), frameon=False,
                         fontsize=12, handlelength=1.9, handletextpad=0.6, labelspacing=0.3,
                         borderpad=0.1)
        for t, c in zip(leg2.get_texts(), [RED, RED, GREEN, GREEN]):
            t.set_color(c)


def ki_panel(ax, row, kind):
    if kind == "T":
        x_thrust(ax, False)
        gx, py, je, ar, he = KT[row]
    else:
        x_y23(ax, False)
        gx, py, je, ar, he = KY[row]
    ax.set_yscale("log")
    ax.set_ylim(0.25, 4.0)
    ax.yaxis.set_major_locator(FixedLocator([1.0]))
    ax.yaxis.set_minor_locator(FixedLocator([0.3, 0.4, 0.5, 0.6, 0.7, 0.8, 0.9, 2, 3, 4]))
    ax.yaxis.set_major_formatter(FuncFormatter(lambda v, p: "1"))
    ax.yaxis.set_minor_formatter(NullFormatter())
    base_ticks(ax, 11.5, pad=14)
    stack = np.vstack([py, je, ar, he]).astype(float)
    ax.fill_between(gx, np.nanmin(stack, axis=0), np.nanmax(stack, axis=0), color=YELLOW, lw=0, zorder=1)
    line(ax, gx, he, "k", DASHDOT, 0.9)
    line(ax, gx, ar, "k", ":", 0.9)
    line(ax, gx, je, "k", "--", 0.9)
    line(ax, gx, py, RED, "-", 1.6)
    ax.axhline(1.0, color="k", ls="--", lw=1.0, zorder=3)
    ax.text(1.065, 0.90, r"K$_\mathregular{i}$", transform=ax.transAxes, fontsize=15, va="center")
    if row == 3:
        hs = [Line2D([], [], color=RED, lw=1.6), Line2D([], [], color="k", ls=":", lw=1),
              Line2D([], [], color="k", ls="--", lw=1), Line2D([], [], color="k", ls=DASHDOT, lw=1)]
        labs = ["Pythia", "Ariadne", "Jetset (J)", "Herwig"]
        lg = ax.legend(hs, labs, ncol=2, loc="upper left", bbox_to_anchor=(0.25, 0.50), frameon=False,
                       fontsize=12.5, handlelength=2.3, handletextpad=0.8, columnspacing=0.6,
                       labelspacing=0.2, borderpad=0.1)
        lg.get_texts()[0].set_color(RED)


def alpha_panel(ax, row, kind):
    last = row == 3
    if kind == "T":
        x_thrust(ax, last)
        cx, c, ce, sx, s, se, ocx, oc, osx, os_ = AT[row]
        vl = T_VLINES[row]
        ax.set_ylim(0.1163, 0.194)
        ax.yaxis.set_major_locator(MultipleLocator(0.02))
        ax.yaxis.set_major_formatter(FuncFormatter(lambda v, p: f"{v:.2f}"))
    else:
        x_y23(ax, last)
        cx, c, ce, sx, s, se, ocx, oc, osx, os_ = AY[row]
        vl = Y_VLINES[row]
        ax.set_ylim(0.1164, 0.2164)
        ax.yaxis.set_major_locator(MultipleLocator(0.025))
        ax.yaxis.set_major_formatter(FuncFormatter(lambda v, p: ("%.3f" % v).rstrip("0")))
    ax.yaxis.set_minor_locator(MultipleLocator(0.005))
    base_ticks(ax, 12.5, pad=6)
    ax.tick_params(axis="y", right=False, which="both")
    if last:
        ax.tick_params(axis="x", labelsize=17, pad=5 if kind == "T" else 11)
    for v in vl:
        ax.axvline(v, color="k", ls="--", lw=1.0, zorder=1)
    ax.errorbar(cx, c, yerr=ce, fmt="o", ms=6, color="k", elinewidth=1.3, capsize=0, zorder=5)
    ax.errorbar(sx, s, yerr=se, fmt="s", ms=6, color="k", elinewidth=1.3, capsize=0, zorder=5)
    axc = ax.twinx()
    axc.set_ylim(0, 1.934)
    axc.yaxis.set_major_locator(FixedLocator([1.0]))
    axc.yaxis.set_minor_locator(MultipleLocator(0.2))
    axc.yaxis.set_major_formatter(FuncFormatter(lambda v, p: "1"))
    axc.tick_params(which="both", direction="in", right=True, colors="k", width=1.0, labelsize=12, pad=12)
    axc.tick_params(which="major", length=9)
    axc.tick_params(which="minor", length=4.5)
    for sp in axc.spines.values():
        sp.set_linewidth(1.5)
    axc.plot(ocx, oc, "o", ms=6.5, mfc="white", mec="k", mew=1.1, ls="none")
    axc.plot(osx, os_, "s", ms=6.5, mfc="white", mec="k", mew=1.1, ls="none")
    # panel labels
    ax.text(-0.205, 0.955, "●", transform=ax.transAxes, fontsize=11, ha="center", va="center", family=SYM)
    ax.text(-0.152, 0.955, "■", transform=ax.transAxes, fontsize=11, ha="center", va="center", family=SYM)
    ax.text(-0.11, 0.935, r"$\alpha_s$", transform=ax.transAxes, fontsize=18, ha="left", va="center")
    ax.text(1.05, 0.955, "○", transform=ax.transAxes, fontsize=11, ha="center", va="center", family=SYM)
    ax.text(1.10, 0.955, "□", transform=ax.transAxes, fontsize=11, ha="center", va="center", family=SYM)
    ax.text(1.14, 0.94, r"$\chi^2$/d.o.f.", transform=ax.transAxes, fontsize=16, ha="left", va="center")


for row in range(4):
    t, b = ROW_Y[row], ROW_Y[row + 1]
    mid = t + (b - t) / 2
    for ci, kind in [(0, "T"), (2, "Y")]:
        l, r = COL_X[ci]
        ax = fig.add_axes(box(l, t, r, b))
        dist_panel(ax, row, kind)
    for ci, kind in [(1, "T"), (3, "Y")]:
        l, r = COL_X[ci]
        axk = fig.add_axes(box(l, t, r, mid))
        ki_panel(axk, row, kind)
        axa = fig.add_axes(box(l, mid, r, b))
        alpha_panel(axa, row, kind)

# axis titles
for ci in (0, 1):
    fig.text(COL_X[ci][1] / W, 1 - 1282 / H, "1-T", ha="right", va="baseline", fontsize=22)
for ci in (2, 3):
    fig.text(COL_X[ci][1] / W, 1 - 1276 / H, r"y$_{23}$", ha="right", va="baseline", fontsize=24)

fig.savefig("out.png", dpi=100, facecolor="white")
